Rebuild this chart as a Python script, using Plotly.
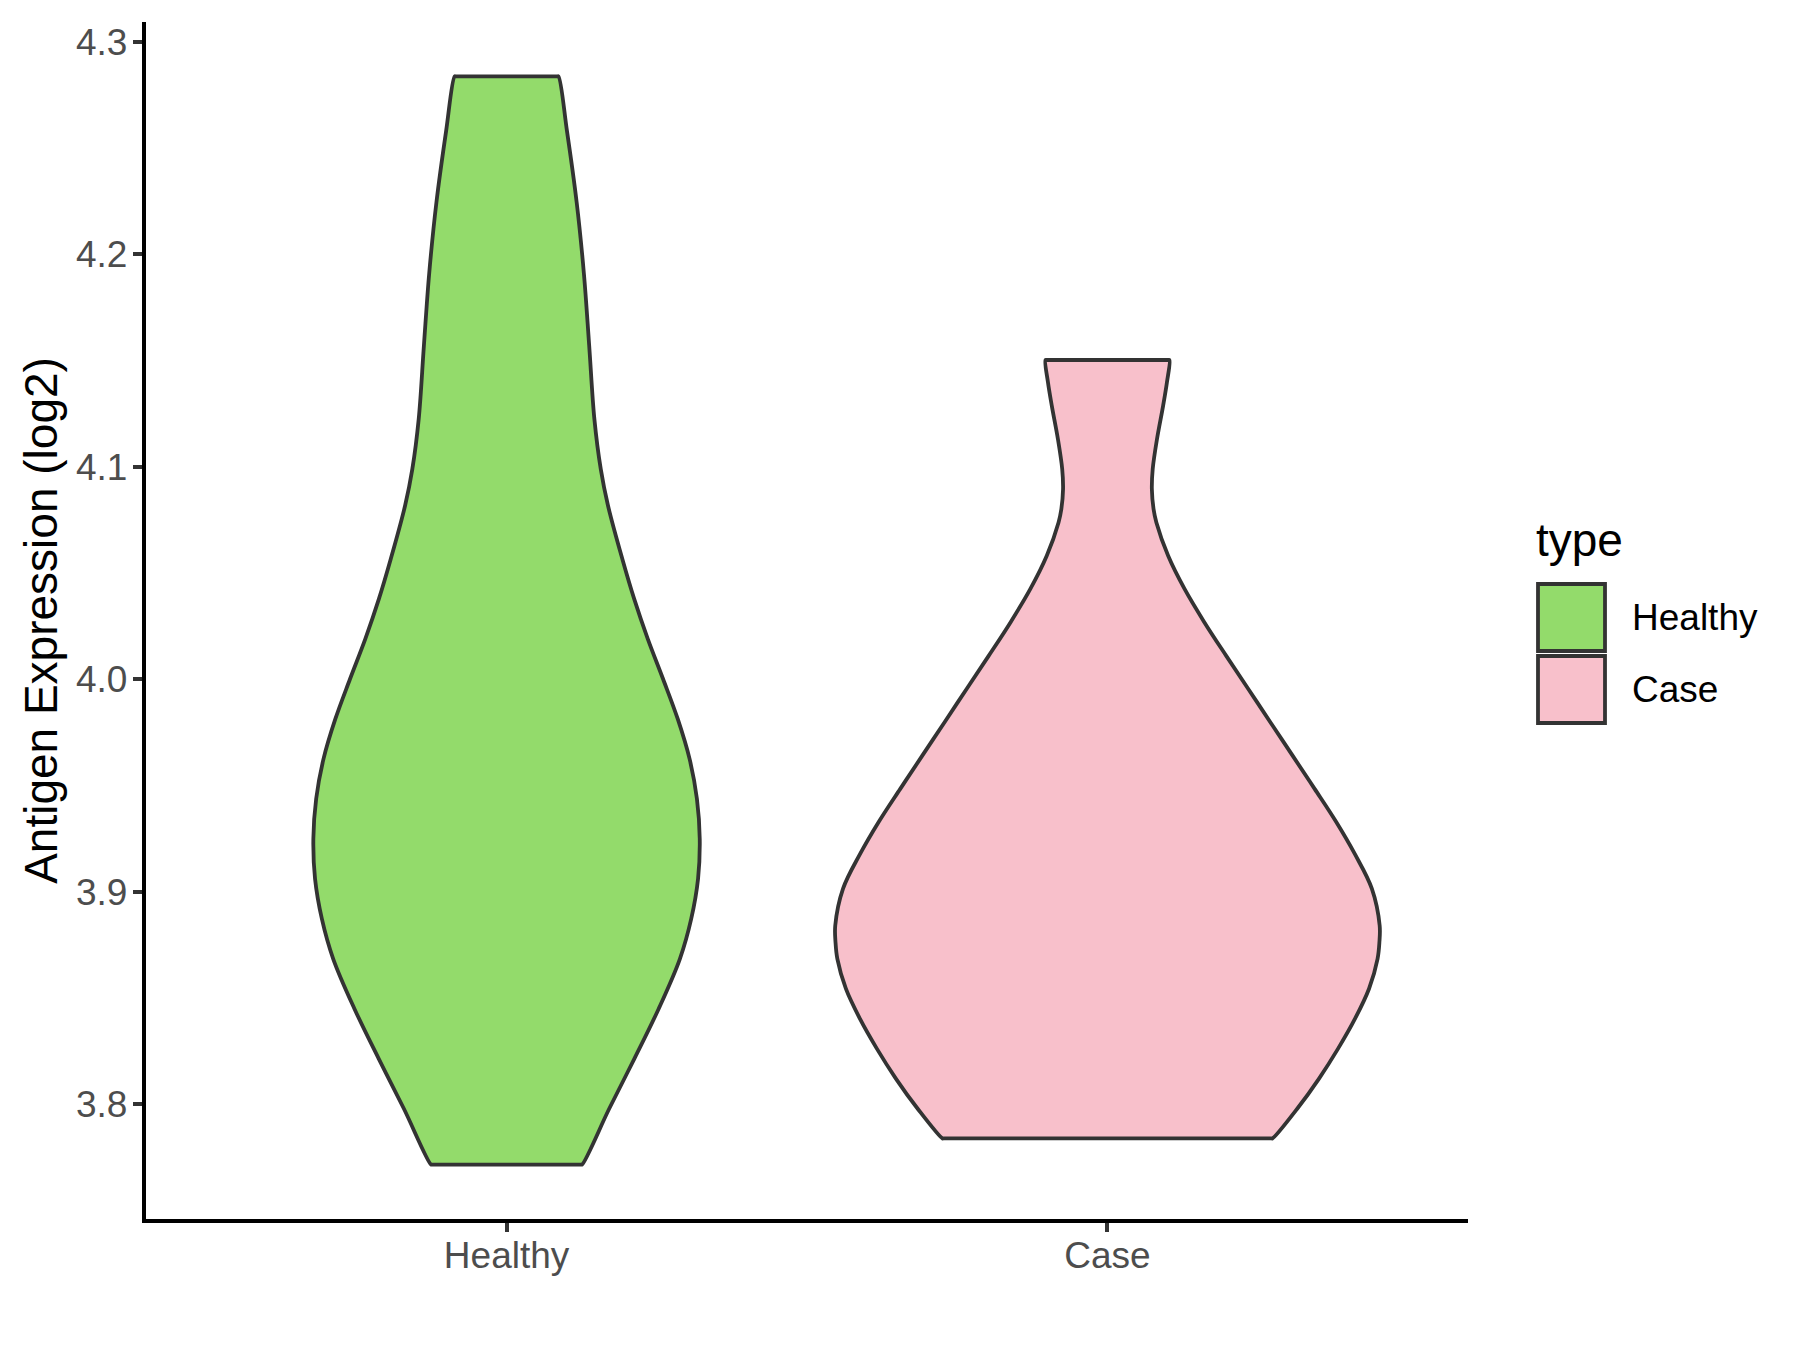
import plotly.graph_objects as go

# ---------------- data ----------------
categories = ["Healthy", "Case"]
positions = [1, 2]
fill_colors = ["#93DB6B", "#F8C0CB"]
legend_title = "type"
y_title = "Antigen Expression (log2)"
y_ticks = [3.8, 3.9, 4.0, 4.1, 4.2, 4.3]
y_tick_labels = ["3.8", "3.9", "4.0", "4.1", "4.2", "4.3"]

# violin outlines: y value (top -> bottom) and half width (category units)
healthy_y = [4.2838, 4.2584, 4.2245, 4.1911, 4.1572, 4.1224, 4.0989, 4.0820,
             4.0566, 4.0378, 4.0190, 4.0001, 3.9813, 3.9625, 3.9437, 3.9249,
             3.9061, 3.8873, 3.8684, 3.8449, 3.8214, 3.7979, 3.7715]
healthy_halfwidth = [0.0864, 0.1004, 0.1167, 0.1287, 0.1375, 0.1462, 0.1568, 0.1686,
                     0.1927, 0.2124, 0.2350, 0.2605, 0.2849, 0.3046, 0.3168, 0.3215,
                     0.3187, 0.3074, 0.2885, 0.2532, 0.2128, 0.1710, 0.1256]

case_y = [4.1503, 4.1398, 4.1287, 4.1130, 4.0989, 4.0895, 4.0801, 4.0738,
          4.0581, 4.0425, 4.0270, 4.0110, 3.9954, 3.9799, 3.9639, 3.9484,
          3.9329, 3.9174, 3.9014, 3.8840, 3.8760, 3.8684, 3.8543, 3.8402,
          3.8261, 3.8120, 3.7979, 3.7838]
case_halfwidth = [0.1032, 0.0990, 0.0926, 0.0824, 0.0753, 0.0739, 0.0767, 0.0814,
                  0.1010, 0.1283, 0.1609, 0.1977, 0.2344, 0.2708, 0.3084, 0.3448,
                  0.3805, 0.4123, 0.4400, 0.4530, 0.4525, 0.4495, 0.4353, 0.4120,
                  0.3838, 0.3521, 0.3161, 0.2745]

profiles = [(healthy_y, healthy_halfwidth), (case_y, case_halfwidth)]

# ---------------- figure ----------------
OUTLINE = "#333333"
FONT = "Liberation Sans, Arial, sans-serif"
EPS = 0.002

fig = go.Figure()
for pos, color, (ys, hws) in zip(positions, fill_colors, profiles):
    xs, yy = [], []
    for y, w in zip(ys, hws):                      # left side, top -> bottom
        xs.append(pos - w); yy.append(y)
    xs += [pos - hws[-1] + EPS, pos + hws[-1] - EPS]; yy += [ys[-1], ys[-1]]
    for y, w in zip(reversed(ys), reversed(hws)):  # right side, bottom -> top
        xs.append(pos + w); yy.append(y)
    xs += [pos + hws[0] - EPS, pos - hws[0] + EPS, pos - hws[0]]
    yy += [ys[0], ys[0], ys[0]]
    fig.add_trace(go.Scatter(
        x=xs, y=yy, mode="lines", fill="toself", fillcolor=color,
        line=dict(color=OUTLINE, width=3.8, shape="spline", smoothing=1),
        showlegend=False, hoverinfo="skip"))

all_y = healthy_y + case_y
span = max(all_y) - min(all_y)
y_range = [min(all_y) - 0.05 * span, max(all_y) + 0.05 * span]

ML, MT, PW, PH = 138, 14, 1322, 1197
fig.update_layout(
    width=1800, height=1350,
    margin=dict(l=ML, r=1800 - ML - PW, t=MT, b=1350 - MT - PH),
    paper_bgcolor="white", plot_bgcolor="white",
    font=dict(family=FONT, color="black"),
    showlegend=False,
    xaxis=dict(range=[0.4, 2.6], tickvals=positions, ticktext=categories,
               showgrid=False, zeroline=False, showline=True,
               linecolor="black", linewidth=4.3, ticks="outside", ticklen=9,
               tickwidth=4.3, tickcolor=OUTLINE, ticklabelstandoff=-9,
               tickfont=dict(family=FONT, size=37, color="#4D4D4D")),
    yaxis=dict(range=y_range, tickvals=y_ticks, ticktext=y_tick_labels,
               showgrid=False, zeroline=False, showline=True,
               linecolor="black", linewidth=4.3, ticks="outside", ticklen=9,
               tickwidth=4.3, tickcolor=OUTLINE, ticklabelstandoff=-2,
               tickfont=dict(family=FONT, size=37, color="#4D4D4D"),
               title=dict(text=y_title, standoff=5,
                          font=dict(family=FONT, size=46, color="black"))),
)

# ---------------- manual legend (ggplot style) ----------------
PAGE_OFFSET = 8  # the page body margin shifts the figure on screen
def xp(px):
    return (px - PAGE_OFFSET - ML) / PW
def yp(py):
    return (MT + PH + PAGE_OFFSET - py) / PH

fig.add_annotation(text=legend_title, xref="paper", yref="paper",
                   x=xp(1534), y=yp(540), xanchor="left", yanchor="middle",
                   showarrow=False, font=dict(family=FONT, size=46, color="black"))
key_tops = [584, 656]
key_size = 67
for cat, color, top in zip(categories, fill_colors, key_tops):
    fig.add_shape(type="rect", xref="paper", yref="paper",
                  x0=xp(1538), x1=xp(1538 + key_size), y0=yp(top), y1=yp(top + key_size),
                  fillcolor=color, line=dict(color=OUTLINE, width=3.8))
    fig.add_annotation(text=cat, xref="paper", yref="paper",
                       x=xp(1630), y=yp(top + key_size / 2), xanchor="left",
                       yanchor="middle", showarrow=False,
                       font=dict(family=FONT, size=37, color="black"))

fig.write_html("out.html")
